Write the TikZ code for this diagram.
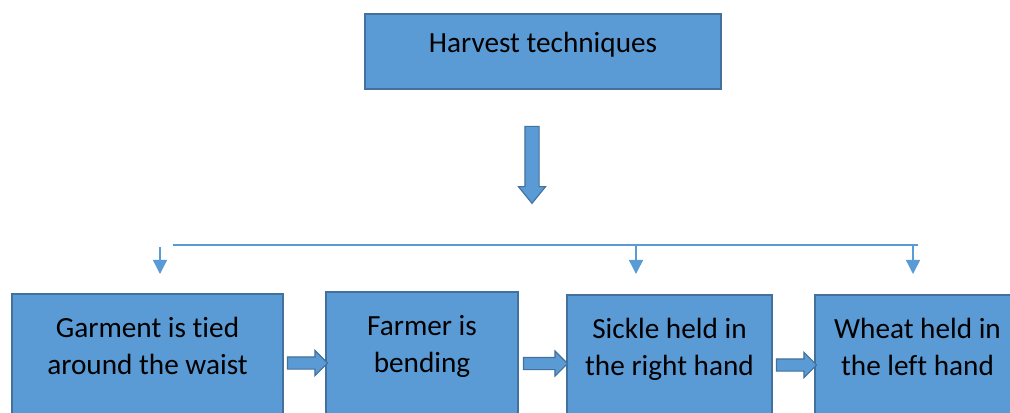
\documentclass[tikz,border=0pt]{standalone}
\usepackage{fontspec}
\setmainfont{Carlito}[RawFeature={-liga;-clig;-calt;-dlig}]
\usetikzlibrary{shapes.arrows,arrows.meta,calc}
\definecolor{boxblue}{HTML}{5B9BD5}
\definecolor{boxedge}{HTML}{41719C}

\begin{document}
\begin{tikzpicture}[x=0.025cm,y=-0.025cm,
        box/.style={rectangle, draw=boxedge, line width=1pt, fill=boxblue, align=center,
          inner sep=0pt, font=\fontsize{20.8}{26.3}\selectfont},
        blockarrow/.style={single arrow, draw=boxedge, line width=0.8pt, fill=boxblue,
          inner xsep=0pt, inner ysep=0.1375cm, minimum width=0.6cm,
          single arrow head extend=0.1625cm, single arrow tip angle=90},
        branch/.style={draw=boxblue, line width=1pt},
        drop/.style={branch, -{Triangle[width=0.35cm,length=0.35cm]}}]
        \useasboundingbox (0,0) rectangle (1010,413);
        \clip (0,0) rectangle (1010,413);

        \node (harvest) at (543,51.5) [box, minimum width=8.9cm, minimum height=1.875cm, text depth=0.45cm] {Harvest techniques};
        \node (down) at (532,160.5) [blockarrow, rotate=-90, minimum height=1.925cm,
          inner ysep=0.1625cm, minimum width=0.65cm, single arrow tip angle=78] {};

        \coordinate (lineL) at (173,245);
        \coordinate (lineR) at (918,245);
        \draw[branch] (lineL) -- (lineR);

        \coordinate (topA) at (160,247);
        \coordinate (endA) at (160,274);
        \coordinate (topB) at (636,245);
        \coordinate (endB) at (636,274);
        \coordinate (topC) at (913,246);
        \coordinate (endC) at (913,274);
        \draw[drop] (topA) -- (endA);
        \draw[drop] (topB) -- (endB);
        \draw[drop] (topC) -- (endC);

        \node (garment) at (147.5,364) [box, minimum width=6.775cm, minimum height=3.5cm] {Garment is tied\\around the waist\\\mbox{}};
        \node (farmer) at (422,362) [box, minimum width=4.8cm, minimum height=3.5cm] {Farmer is\\bending\\\mbox{}};
        \node (sickle) at (669.5,365) [box, minimum width=5.125cm, minimum height=3.5cm] {Sickle held in\\the right hand\\\mbox{}};
        \node (wheat) at (917.5,365) [box, minimum width=5.125cm, minimum height=3.5cm] {Wheat held in\\the left hand\\\mbox{}};

        \node (g2f) at ($(garment.east)!0.5!(farmer.west)$) [blockarrow, minimum height=1.0cm] {};
        \node (f2s) at ($(farmer.east)!0.5!(sickle.west)$) [blockarrow, minimum height=1.1cm] {};
        \node (s2w) at ($(sickle.east)!0.5!(wheat.west)$) [blockarrow, minimum height=1.0cm] {};
        \end{tikzpicture}
\end{document}
